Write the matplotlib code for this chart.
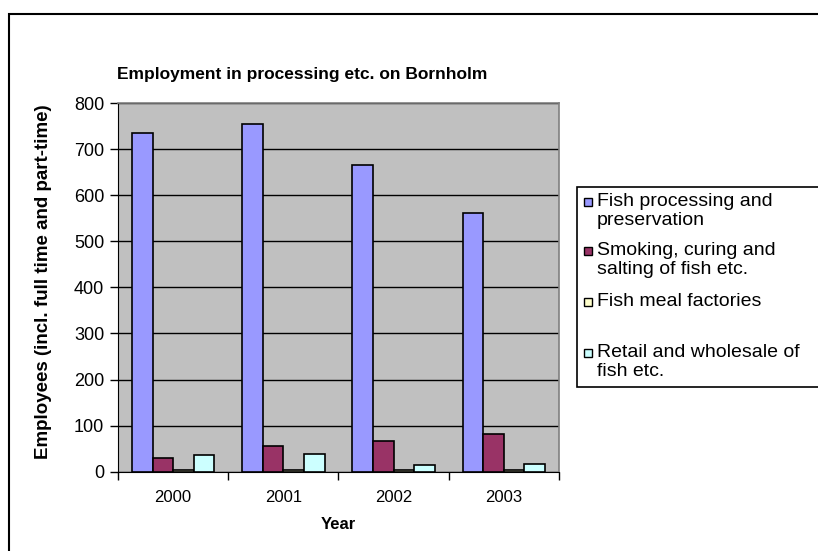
import matplotlib
matplotlib.use("Agg")
import matplotlib.pyplot as plt
from matplotlib.patches import Rectangle
import numpy as np

plt.rcParams['font.family'] = ['Liberation Sans', 'DejaVu Sans']

years = ["2000", "2001", "2002", "2003"]
series_names = ["Fish processing and\npreservation",
                "Smoking, curing and\nsalting of fish etc.",
                "Fish meal factories",
                "Retail and wholesale of\nfish etc."]
fish_processing = [734, 755, 666, 561]
smoking_curing = [30, 56, 67, 82]
fish_meal = [3, 3, 3, 3]
retail_wholesale = [36, 38, 15, 16]
colors = ["#9999FF", "#993366", "#FFFFCC", "#CCFFFF"]
yticks = [0, 100, 200, 300, 400, 500, 600, 700, 800]

W, H = 818, 551
fig = plt.figure(figsize=(W / 100, H / 100), dpi=100)
fig.patch.set_facecolor("white")

# outer chart frame (only left and top visible)
fig.add_artist(Rectangle((9 / W, -0.1), 1.2, (H - 14) / H + 0.1, transform=fig.transFigure,
                         fill=False, edgecolor="black", lw=1.5))

ax = fig.add_axes([118 / W, 1 - 471.7 / H, (559 - 118) / W, (471.7 - 103) / H])
ax.set_facecolor("#C0C0C0")

x = np.arange(len(years))
bw = 0.187
data = [fish_processing, smoking_curing, fish_meal, retail_wholesale]
for i, (vals, c) in enumerate(zip(data, colors)):
    ax.bar(x + (i - 1.5) * bw, vals, width=bw, color=c, edgecolor="black", linewidth=1.2, zorder=3)

ax.set_xlim(-0.5, 3.5)
ax.set_ylim(0, 800)
ax.set_yticks(yticks)
ax.set_yticklabels([str(v) for v in yticks], fontsize=13)
ax.yaxis.grid(True, color="black", linewidth=1.0, zorder=0)
ax.set_axisbelow(True)

ax.set_xticks(np.arange(-0.5, 4.0, 1.0))
ax.set_xticklabels([])
ax.set_xticks(x, minor=True)
ax.set_xticklabels(years, minor=True, fontsize=12)
ax.tick_params(axis="x", which="major", length=6, direction="out", width=1)
ax.tick_params(axis="x", which="minor", length=0, pad=13)
ax.tick_params(axis="y", length=6, direction="out", width=1, pad=4)

for s in ["top", "right"]:
    ax.spines[s].set_color("#808080")
    ax.spines[s].set_linewidth(1.2)
ax.spines["left"].set_color("black")
ax.spines["bottom"].set_color("black")

ax.set_xlabel("Year", fontsize=12, fontweight="bold", labelpad=9)
fig.text(44 / W, 1 - 282 / H, "Employees (incl. full time and part-time)", rotation=90,
         fontsize=13.5, fontweight="bold", ha="center", va="center")

fig.text(302 / W, 1 - 75 / H, "Employment in processing etc. on Bornholm",
         fontsize=12.5, fontweight="bold", ha="center", va="center")

# legend box
fig.add_artist(Rectangle((577 / W, 1 - 387 / H), 0.5, (387 - 187) / H, transform=fig.transFigure,
                         facecolor="white", edgecolor="black", lw=1.2))
entry_y = [202, 251, 302, 353]
for name, c, yy in zip(series_names, colors, entry_y):
    fig.add_artist(Rectangle((584 / W, 1 - (yy + 4) / H), 8 / W, 8 / H, transform=fig.transFigure,
                             facecolor=c, edgecolor="black", lw=1.0))
    fig.text(597 / W, 1 - (yy - 9) / H, name, fontsize=14, ha="left", va="top",
             linespacing=1.15)

fig.savefig("out.png", dpi=100)
